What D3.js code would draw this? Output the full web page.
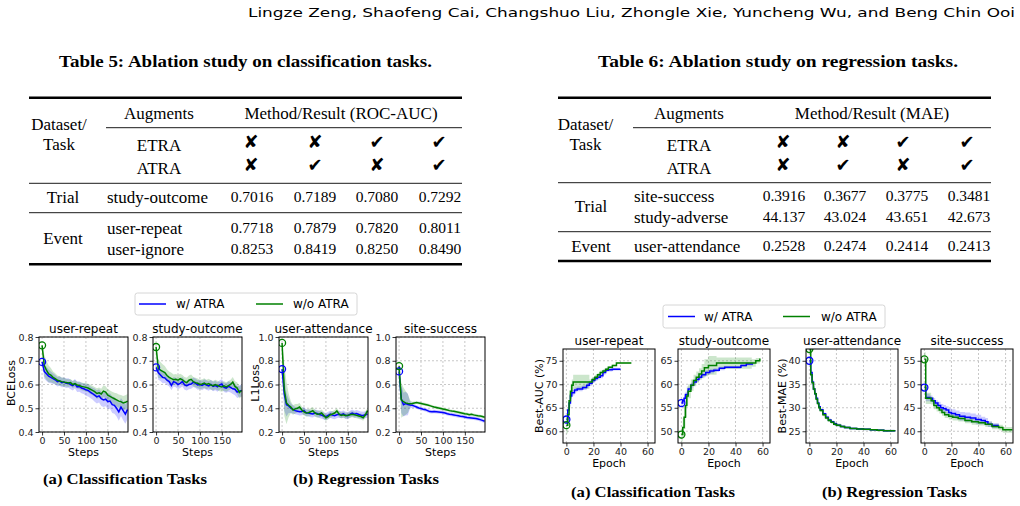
<!DOCTYPE html>
<html>
<head>
<meta charset="utf-8">
<script src="https://cdn.jsdelivr.net/npm/d3@7"></script>
<style>
body { margin: 0; background: #fff; }
.serif { font-family: "Liberation Serif", "Times New Roman", serif; }
.sans { font-family: "DejaVu Sans", sans-serif; }
</style>
</head>
<body>
<svg id="page" width="1020" height="506"></svg>
<script>
// ---- table data ----
var etraMarks = ["\u2718", "\u2718", "\u2714", "\u2714"];
var atraMarks = ["\u2718", "\u2714", "\u2718", "\u2714"];
var t5Groups = ["Trial", "Event"];
var t5GroupOf = [0, 1, 1];
var t5Tasks = ["study-outcome", "user-repeat", "user-ignore"];
var t5Values = [[0.7016, 0.7189, 0.7080, 0.7292],
                [0.7718, 0.7879, 0.7820, 0.8011],
                [0.8253, 0.8419, 0.8250, 0.8490]];
var t6Groups = ["Trial", "Event"];
var t6GroupOf = [0, 0, 1];
var t6Tasks = ["site-success", "study-adverse", "user-attendance"];
var t6Values = [[0.3916, 0.3677, 0.3775, 0.3481],
                [44.137, 43.024, 43.651, 42.673],
                [0.2528, 0.2474, 0.2414, 0.2413]];

// ---- loss curves (left figure) ----
var lossSteps = [0,5,10,15,20,25,30,35,40,45,50,55,60,65,70,75,80,85,90,95,100,105,110,115,120,125,130,135,140,145,150,155,160,165,170,175,180,185,190,195];
var lossTitles = ["user-repeat", "study-outcome", "user-attendance", "site-success"];

var urLossW  = [.695,.655,.645,.635,.630,.625,.620,.612,.615,.608,.610,.605,.606,.600,.595,.603,.590,.592,.585,.582,.578,.575,.568,.562,.555,.548,.552,.540,.535,.538,.528,.530,.515,.512,.500,.485,.505,.490,.475,.495];
var urLossWo = [.765,.680,.660,.645,.640,.630,.625,.618,.615,.612,.610,.608,.606,.608,.600,.604,.598,.596,.592,.590,.588,.585,.580,.575,.570,.562,.565,.560,.572,.568,.555,.550,.545,.540,.535,.530,.528,.522,.525,.530];
var urSprW   = [.005,.03,.03,.028,.025,.022,.02,.02,.02,.02,.02,.02,.02,.02,.02,.02,.022,.022,.022,.022,.025,.025,.025,.025,.028,.028,.028,.03,.03,.03,.032,.032,.035,.035,.035,.038,.038,.04,.04,.04];
var urSprWo  = [.005,.045,.04,.035,.03,.025,.022,.02,.02,.018,.018,.016,.016,.015,.015,.015,.015,.015,.016,.016,.018,.018,.02,.02,.02,.022,.022,.022,.025,.025,.025,.025,.025,.025,.028,.028,.028,.03,.03,.03];

var soLossW  = [.672,.650,.640,.630,.628,.618,.612,.596,.612,.608,.600,.605,.612,.598,.595,.600,.602,.610,.605,.598,.600,.596,.602,.598,.594,.600,.592,.596,.590,.598,.602,.588,.585,.592,.588,.582,.580,.568,.572,.575];
var soLossWo = [.758,.668,.660,.655,.650,.638,.630,.625,.620,.622,.618,.625,.620,.612,.608,.618,.622,.612,.608,.605,.600,.602,.606,.600,.604,.598,.595,.600,.596,.592,.590,.594,.590,.595,.600,.610,.592,.585,.566,.575];
var soSprW   = [.005,.03,.025,.025,.022,.02,.02,.02,.02,.02,.02,.02,.02,.02,.02,.02,.02,.02,.02,.02,.02,.02,.02,.02,.02,.02,.02,.02,.02,.02,.02,.02,.02,.022,.022,.022,.025,.025,.025,.025];
var soSprWo  = [.005,.04,.035,.03,.028,.025,.025,.025,.022,.022,.022,.02,.02,.02,.02,.02,.02,.02,.02,.02,.02,.02,.02,.02,.02,.02,.02,.02,.02,.02,.02,.02,.02,.02,.02,.022,.022,.025,.025,.025];

var uaLossW  = [.730,.520,.430,.420,.400,.390,.380,.375,.370,.372,.380,.362,.360,.355,.352,.360,.356,.348,.342,.335,.330,.340,.350,.342,.338,.345,.350,.345,.352,.340,.338,.350,.360,.350,.355,.348,.342,.340,.345,.350];
var uaLossWo = [.950,.560,.445,.425,.410,.385,.395,.400,.410,.385,.370,.360,.362,.370,.380,.360,.350,.352,.360,.340,.320,.330,.345,.352,.360,.378,.350,.340,.345,.338,.340,.345,.350,.345,.340,.335,.330,.320,.345,.380];
var uaSprW   = [.005,.14,.10,.06,.04,.035,.03,.03,.03,.03,.03,.03,.03,.03,.03,.03,.03,.03,.03,.03,.03,.03,.03,.03,.03,.03,.03,.03,.03,.03,.03,.03,.03,.03,.03,.03,.03,.03,.03,.03];
var uaSprWo  = [.005,.22,.18,.10,.05,.04,.04,.035,.035,.03,.03,.03,.03,.03,.03,.03,.03,.03,.03,.03,.025,.025,.025,.025,.025,.025,.025,.025,.025,.025,.025,.025,.025,.025,.025,.025,.025,.025,.025,.025];

var ssLossW  = [.710,.480,.430,.440,.432,.428,.425,.418,.410,.402,.398,.392,.388,.380,.372,.370,.372,.370,.368,.366,.364,.360,.354,.350,.347,.344,.340,.336,.332,.330,.326,.322,.320,.318,.316,.314,.310,.304,.298,.290];
var ssLossWo = [.755,.470,.455,.445,.440,.438,.440,.445,.448,.444,.440,.436,.432,.428,.422,.416,.410,.406,.402,.398,.394,.390,.386,.380,.376,.374,.370,.366,.362,.358,.354,.352,.346,.350,.344,.340,.336,.334,.330,.325];
var ssSprW   = [.005,.12,.10,.10,.09,.03,.02,.015,.015,.015,.015,.015,.015,.015,.015,.015,.015,.015,.015,.015,.015,.015,.015,.015,.015,.015,.015,.015,.015,.015,.015,.015,.015,.015,.015,.015,.015,.015,.015,.015];
var ssSprWo  = [.005,.15,.12,.10,.08,.03,.015,.012,.012,.012,.012,.012,.012,.012,.012,.012,.012,.012,.012,.012,.012,.012,.012,.012,.012,.012,.012,.012,.012,.012,.012,.012,.012,.012,.012,.012,.012,.012,.012,.012];

// ---- best-so-far curves (right figure) ----
var urEpW  = [0,1,2,3,4,6,8,12,15,17,19,21,23,25,27,29,31,34,40];
var urAucW = [62.5,64.5,66,67.5,68.2,68.8,69,69.3,69.8,70.2,70.8,71.2,71.5,71.8,72.5,73,73.1,73.2,73.2];
var urSdW  = [0.3,0.5,0.6,0.6,0.6,0.5,0.5,0.5,0.5,0.5,0.5,0.5,0.5,0.5,0.5,0.4,0.4,0.3,0.3];
var urEpWo  = [0,1,2,3,4,5,17,19,21,23,25,27,29,31,34,37,48];
var urAucWo = [61.3,63.5,66.5,68.5,69.8,70.5,70.5,71,71.5,72,72.5,72.8,73.2,73.6,74,74.5,74.5];
var urSdWo  = [1.8,1.5,1.5,1.5,1.2,1.5,0.5,0.5,0.5,0.4,0.4,0.4,0.3,0.3,0.2,0.2,0.2];

var soEpW  = [0,1,2,3,5,7,9,11,13,15,18,21,24,28,32,40,44,48,53];
var soAucW = [56,56.5,57,57.8,59,59.8,60.5,61,61.5,62,62.5,62.8,63,63.4,63.6,63.6,64,64.3,64.3];
var soSdW  = [0.6,0.6,0.6,0.6,0.5,0.5,0.5,0.5,0.5,0.5,0.5,0.5,0.4,0.4,0.3,0.3,0.3,0.3,0.3];
var soEpWo  = [0,1,2,3,4,5,7,9,11,13,15,17,20,26,52,55,58];
var soAucWo = [49.3,50.8,53,55.5,57.5,58.5,59.8,60.8,61.5,62.2,62.8,63.5,64,64.5,64.5,65,65.5];
var soSdWo  = [1.5,2,2.5,2.5,2,1.5,1.2,1.2,1.2,1.2,1.5,1.8,2,1.2,0.8,0.6,0.6];

var uaEp    = [0,1,2,3,4,5,6,7,8,10,12,14,16,18,20,23,26,30,35,40,45,50,55,63];
var uaMaeW  = [40,37.5,35.5,34,33,32,31,30.2,29.6,28.7,28,27.4,27,26.6,26.3,26,25.8,25.6,25.5,25.4,25.3,25.2,25.1,25];
var uaMaeWo = [42.5,37,35.3,34,33,31.8,30.9,30,29.4,28.5,27.8,27.3,26.9,26.5,26.3,26,25.8,25.6,25.5,25.4,25.3,25.2,25.1,25];
var uaSd    = [0.6,0.6,0.5,0.5,0.4,0.4,0.4,0.3,0.3,0.3,0.3,0.3,0.3,0.3,0.3,0.2,0.2,0.2,0.2,0.2,0.2,0.2,0.2,0.2];

var ssEpW  = [0,1,4,6,8,10,12,14,16,18,20,23,26,30,34,38,42,45,47,50,55];
var ssMaeW = [49.3,47.2,47,46.5,46,45.5,45,44.8,44.5,44,43.8,43.5,43.2,43,42.8,42.5,42.3,42,41.5,41.2,41.2];
var ssSdW  = [0.8,0.8,0.6,0.6,0.6,0.8,0.8,0.8,0.8,0.9,0.9,0.9,0.9,1.0,1.0,1.0,0.8,0.8,0.6,0.5,0.5];
var ssEpWo  = [0,1,5,7,9,11,13,15,18,21,25,30,35,40,45,50,55,58,65];
var ssMaeWo = [55.3,47,46.5,45.5,45,44.5,44,43.5,43.2,43,42.7,42.3,42,41.8,41.5,41,40.8,40.3,40.3];
var ssSdWo  = [1.5,1.2,0.8,0.8,0.8,0.7,0.7,0.7,0.7,0.7,0.6,0.6,0.6,0.6,0.6,0.6,0.6,0.6,0.6];

var seriesNames = ["w/ ATRA", "w/o ATRA"];
var seriesColors = ["#0000ff", "#008000"];

var svg = d3.select("#page");

// running header
svg.append("text")
    .attr("x", 1015).attr("y", 17)
    .attr("text-anchor", "end")
    .attr("textLength", 767).attr("lengthAdjust", "spacingAndGlyphs")
    .style("font-family", "'DejaVu Sans Condensed', 'Liberation Sans', sans-serif")
    .style("font-size", "12.5px")
    .text("Lingze Zeng, Shaofeng Cai, Changshuo Liu, Zhongle Xie, Yuncheng Wu, and Beng Chin Ooi");

// ---------- tables ----------
function fmtVal(v) { return v < 1 ? d3.format(".4f")(v) : d3.format(".3f")(v); }

function drawTable(t) {
    var g = svg.append("g").attr("class", "serif");
    g.append("text")
        .attr("x", t.titleX[0]).attr("y", 61).attr("dy", "0.35em")
        .attr("textLength", t.titleX[1] - t.titleX[0]).attr("lengthAdjust", "spacingAndGlyphs")
        .style("font-size", "17px").style("font-weight", "bold")
        .text(t.title);

    var rules = [
        {y: 97.7, x0: t.left, x1: t.right, w: 2.6},
        {y: 127.7, x0: t.subLeft, x1: t.right, w: 0.9},
        {y: t.rules[0], x0: t.left, x1: t.right, w: 0.9},
        {y: t.rules[1], x0: t.left, x1: t.right, w: 0.9},
        {y: t.bottom, x0: t.left, x1: t.right, w: 2.6}
    ];
    g.selectAll("line.rule").data(rules).enter().append("line")
        .attr("x1", function(d) { return d.x0; }).attr("x2", function(d) { return d.x1; })
        .attr("y1", function(d) { return d.y; }).attr("y2", function(d) { return d.y; })
        .attr("stroke", "#000").attr("stroke-width", function(d) { return d.w; });

    function txt(x, y, s, anchor, size) {
        g.append("text").attr("x", x).attr("y", y).attr("dy", "0.35em")
            .attr("text-anchor", anchor || "middle")
            .style("font-size", (size || 17) + "px").text(s);
    }
    txt(t.dsX, 124, "Dataset/");
    txt(t.dsX, 144, "Task");
    txt(t.augX, 112.7, "Augments");
    txt(t.methX, 112.7, t.metric);
    txt(t.augX, 145, "ETRA");
    txt(t.augX, 168, "ATRA");

    [etraMarks, atraMarks].forEach(function(marks, r) {
        g.selectAll(null).data(marks).enter().append("text")
            .attr("x", function(d, i) { return t.markX[i]; })
            .attr("y", r === 0 ? 141.5 : 165)
            .attr("dy", "0.35em").attr("text-anchor", "middle")
            .style("font-family", "'DejaVu Sans', sans-serif")
            .style("font-size", "18px")
            .text(function(d) { return d; });
    });

    t.groups.forEach(function(name, gi) { txt(t.groupX, t.groupY[gi], name); });
    t.tasks.forEach(function(task, i) {
        txt(t.taskX, t.rowY[i], task, "start");
        t.values[i].forEach(function(v, j) { txt(t.colX[j], t.rowY[i], fmtVal(v), "middle", 15.5); });
    });
}

drawTable({
    title: "Table 5: Ablation study on classification tasks.", titleX: [59, 432],
    left: 29, right: 462, subLeft: 106, dsX: 59, augX: 159, methX: 341,
    metric: "Method/Result (ROC-AUC)",
    markX: [251, 315, 377, 439], colX: [252, 315, 377, 440],
    taskX: 107, groupX: 63, groups: t5Groups, groupY: [197, 238.5],
    tasks: t5Tasks, values: t5Values, rowY: [197, 228, 249],
    rules: [183.3, 212.7], bottom: 264.3
});
drawTable({
    title: "Table 6: Ablation study on regression tasks.", titleX: [598, 958],
    left: 558, right: 991, subLeft: 633, dsX: 585.5, augX: 689, methX: 872,
    metric: "Method/Result (MAE)",
    markX: [783, 843, 903, 967], colX: [784, 845, 907, 969],
    taskX: 634, groupX: 591, groups: t6Groups, groupY: [206.3, 246],
    tasks: t6Tasks, values: t6Values, rowY: [196, 216.7, 246],
    rules: [182.7, 231.7], bottom: 261
});

// ---------- small multiples ----------
var clipId = 0;
function drawPanel(p) {
    var g = svg.append("g").attr("class", "sans")
        .attr("transform", "translate(" + p.x + "," + p.top + ")");
    var x = d3.scaleLinear().domain(p.xDomain).range([0, p.w]);
    var y = d3.scaleLinear().domain(p.yDomain).range([p.h, 0]);

    // grid
    var grid = g.append("g").attr("stroke", "#b0b0b0").attr("stroke-width", 0.7)
        .attr("stroke-dasharray", "2,2");
    grid.selectAll(null).data(p.xTicks).enter().append("line")
        .attr("x1", x).attr("x2", x).attr("y1", 0).attr("y2", p.h);
    grid.selectAll(null).data(p.yTicks).enter().append("line")
        .attr("y1", y).attr("y2", y).attr("x1", 0).attr("x2", p.w);

    var id = "clip" + (clipId++);
    g.append("clipPath").attr("id", id).append("rect").attr("width", p.w).attr("height", p.h);
    var plot = g.append("g").attr("clip-path", "url(#" + id + ")");

    p.series.forEach(function(s, k) {
        var pts = s.xs.map(function(v, i) { return {x: v, y: s.ys[i], sd: s.sd[i]}; });
        var area = d3.area().curve(p.curve)
            .x(function(d) { return x(d.x); })
            .y0(function(d) { return y(d.y - d.sd); })
            .y1(function(d) { return y(d.y + d.sd); });
        plot.append("path").attr("d", area(pts))
            .attr("fill", seriesColors[k]).attr("fill-opacity", 0.2);
    });
    p.series.forEach(function(s, k) {
        var pts = s.xs.map(function(v, i) { return {x: v, y: s.ys[i]}; });
        var line = d3.line().curve(p.curve)
            .x(function(d) { return x(d.x); })
            .y(function(d) { return y(d.y); });
        plot.append("path").attr("d", line(pts))
            .attr("fill", "none").attr("stroke", seriesColors[k]).attr("stroke-width", 1.5);
    });
    p.series.forEach(function(s, k) {
        plot.append("circle")
            .attr("cx", x(s.xs[0])).attr("cy", y(s.ys[0])).attr("r", 3.5)
            .attr("fill", "none").attr("stroke", seriesColors[k]).attr("stroke-width", 1.3);
    });

    g.append("rect").attr("width", p.w).attr("height", p.h)
        .attr("fill", "none").attr("stroke", "#000").attr("stroke-width", 1);

    var xAxis = g.append("g").attr("transform", "translate(0," + p.h + ")")
        .call(d3.axisBottom(x).tickValues(p.xTicks).tickSize(3.5).tickPadding(2));
    var yAxis = g.append("g")
        .call(d3.axisLeft(y).tickValues(p.yTicks).tickFormat(p.yFormat).tickSize(3.5).tickPadding(2));
    [xAxis, yAxis].forEach(function(a) {
        a.attr("font-family", "DejaVu Sans, sans-serif").attr("font-size", 9.5);
        a.select(".domain").remove();
        a.selectAll(".tick line").attr("stroke", "#000").attr("stroke-width", 0.8);
        a.selectAll(".tick text").attr("fill", "#222");
    });

    g.append("text").attr("x", p.w / 2).attr("y", -8).attr("dy", "0.35em")
        .attr("text-anchor", "middle").style("font-size", "12px").text(p.title);
    g.append("text").attr("x", p.w / 2).attr("y", p.h + 20).attr("dy", "0.35em")
        .attr("text-anchor", "middle").style("font-size", "11px").text(p.xLabel);
    if (p.yLabel) {
        g.append("text")
            .attr("transform", "translate(" + p.yLabelX + "," + (p.h / 2 + p.yLabelDy) + ") rotate(-90)")
            .attr("dy", "0.35em").attr("text-anchor", "middle")
            .style("font-size", "11px").text(p.yLabel);
    }
}

var lossSets = [
    [urLossW, urSprW, urLossWo, urSprWo],
    [soLossW, soSprW, soLossWo, soSprWo],
    [uaLossW, uaSprW, uaLossWo, uaSprWo],
    [ssLossW, ssSprW, ssLossWo, ssSprWo]
];
var lossX = [39, 153, 279, 396];
lossSets.forEach(function(set, i) {
    var reg = i >= 2;
    drawPanel({
        x: lossX[i], top: 337, w: 89, h: 95,
        xDomain: [-7, 196], yDomain: reg ? [0.2, 1.0] : [0.4, 0.8],
        xTicks: [0, 50, 100, 150],
        yTicks: reg ? [0.2, 0.4, 0.6, 0.8, 1.0] : [0.4, 0.5, 0.6, 0.7, 0.8],
        yFormat: d3.format(".1f"),
        curve: d3.curveLinear,
        title: lossTitles[i], xLabel: "Steps",
        yLabel: i === 0 ? "BCELoss" : (i === 2 ? "L1Loss" : null),
        yLabelX: i === 0 ? -28 : -24, yLabelDy: -1.5,
        series: [
            {xs: lossSteps, ys: set[0], sd: set[1]},
            {xs: lossSteps, ys: set[2], sd: set[3]}
        ]
    });
});

var bestPanels = [
    {title: "user-repeat", yDomain: [57.5, 77.5], yTicks: [60, 65, 70, 75], yLabel: "Best-AUC (%)",
     series: [{xs: urEpW, ys: urAucW, sd: urSdW}, {xs: urEpWo, ys: urAucWo, sd: urSdWo}]},
    {title: "study-outcome", yDomain: [47.5, 67.5], yTicks: [50, 55, 60, 65], yLabel: null,
     series: [{xs: soEpW, ys: soAucW, sd: soSdW}, {xs: soEpWo, ys: soAucWo, sd: soSdWo}]},
    {title: "user-attendance", yDomain: [22.5, 42.5], yTicks: [25, 30, 35, 40], yLabel: "Best-MAE (%)",
     series: [{xs: uaEp, ys: uaMaeW, sd: uaSd}, {xs: uaEp, ys: uaMaeWo, sd: uaSd}]},
    {title: "site-success", yDomain: [37.5, 57.5], yTicks: [40, 45, 50, 55], yLabel: null,
     series: [{xs: ssEpW, ys: ssMaeW, sd: ssSdW}, {xs: ssEpWo, ys: ssMaeWo, sd: ssSdWo}]}
];
var bestX = [563, 678, 806, 921];
bestPanels.forEach(function(b, i) {
    drawPanel({
        x: bestX[i], top: 349, w: 92, h: 94,
        xDomain: [-2.5, 65.5], yDomain: b.yDomain,
        xTicks: [0, 20, 40, 60], yTicks: b.yTicks, yFormat: d3.format("d"),
        curve: d3.curveStepAfter,
        title: b.title, xLabel: "Epoch",
        yLabel: b.yLabel, yLabelX: -24, yLabelDy: 0,
        series: b.series
    });
});

// legends
function drawLegend(x0, y0, w, h, lineX, textX) {
    var g = svg.append("g").attr("class", "sans");
    g.append("rect").attr("x", x0).attr("y", y0).attr("width", w).attr("height", h)
        .attr("rx", 2.5).attr("fill", "#fff").attr("stroke", "#d6d6d6").attr("stroke-width", 1);
    seriesNames.forEach(function(name, k) {
        g.append("line").attr("x1", lineX[k]).attr("x2", lineX[k] + 27)
            .attr("y1", y0 + h / 2).attr("y2", y0 + h / 2)
            .attr("stroke", seriesColors[k]).attr("stroke-width", 1.5);
        g.append("text").attr("x", textX[k]).attr("y", y0 + h / 2).attr("dy", "0.35em")
            .style("font-size", "12px").text(name);
    });
}
drawLegend(135, 293, 222, 22, [139, 256], [176, 293]);
drawLegend(663, 305, 222, 23, [668, 783], [704, 821]);

// captions
var captions = [
    {text: "(a) Classification Tasks", x: [43, 207], y: 479},
    {text: "(b) Regression Tasks", x: [293, 439], y: 479},
    {text: "(a) Classification Tasks", x: [571, 735], y: 491.7},
    {text: "(b) Regression Tasks", x: [822, 967], y: 491.7}
];
svg.selectAll("text.caption").data(captions).enter().append("text")
    .attr("class", "caption serif")
    .attr("x", function(d) { return d.x[0]; })
    .attr("y", function(d) { return d.y; }).attr("dy", "0.35em")
    .attr("textLength", function(d) { return d.x[1] - d.x[0]; })
    .attr("lengthAdjust", "spacingAndGlyphs")
    .style("font-size", "15px").style("font-weight", "bold")
    .text(function(d) { return d.text; });
</script>
</body>
</html>
